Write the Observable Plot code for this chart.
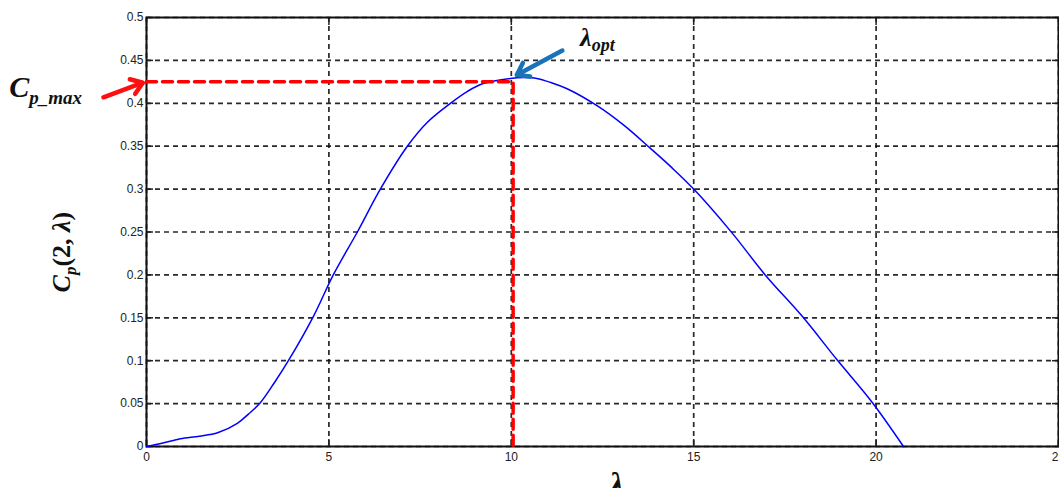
<!DOCTYPE html>
<html><head><meta charset="utf-8">
<script src="https://cdn.jsdelivr.net/npm/d3@7"></script>
<script src="https://cdn.jsdelivr.net/npm/@observablehq/plot@0.6"></script>
<style>body{margin:0;background:#fff;overflow:hidden}</style>
</head><body><div id="chart"></div>
<script>
// Power coefficient curve Cp(2, λ)
const lambda = [0, 0.45, 0.93, 1.45, 1.95, 2.49, 2.8, 3.12, 3.5, 3.89, 4.58, 5.12, 5.78, 6.41, 7.15, 7.7, 8.33, 8.8, 9.23, 9.97, 10.35, 10.7, 11.1, 11.53, 12.36, 13.1, 13.8, 14.4, 15.0, 16.05, 16.96, 17.97, 18.93, 19.9, 20.75];
const cp     = [0, 0.004, 0.009, 0.012, 0.016, 0.027, 0.038, 0.051, 0.074, 0.100, 0.152, 0.200, 0.250, 0.300, 0.350, 0.378, 0.400, 0.414, 0.423, 0.429, 0.430, 0.429, 0.424, 0.417, 0.397, 0.374, 0.348, 0.325, 0.300, 0.249, 0.200, 0.152, 0.101, 0.051, 0];
const xTicks = [0, 5, 10, 15, 20, 25];
const yTicks = [0, 0.05, 0.1, 0.15, 0.2, 0.25, 0.3, 0.35, 0.4, 0.45, 0.5];
const lambdaOpt = 10.05;
const cpMax = 0.425;
const redArrow = [{x1: -1.18, y1: 0.407, x2: -0.1, y2: 0.424}];
const blueArrow = [{x1: 11.4, y1: 0.4615, x2: 10.15, y2: 0.433}];

const curve = lambda.map((l, i) => ({l, c: cp[i]}));
const guide = [{l: 0, c: cpMax}, {l: lambdaOpt, c: cpMax}, {l: lambdaOpt, c: 0}];
const fmt = d => String(+d.toFixed(2));

const plot = Plot.plot({
  width: 1059, height: 488,
  marginLeft: 146, marginRight: 1, marginTop: 17, marginBottom: 42,
  x: {domain: [0, 25]},
  y: {domain: [0, 0.5]},
  style: {fontFamily: "'Liberation Sans', Arial, sans-serif", fontSize: "12px", color: "#222", background: "#fff", overflow: "visible"},
  marks: [
    Plot.ruleX(xTicks, {stroke: "#111", strokeDasharray: "5,4", strokeWidth: 1.7, strokeOpacity: 0.9}),
    Plot.ruleY(yTicks, {stroke: "#111", strokeDasharray: "5,4", strokeWidth: 1.7, strokeOpacity: 0.9}),
    Plot.axisX(xTicks, {tickSize: 0, tickPadding: 6, tickFormat: fmt, label: null}),
    Plot.axisY(yTicks, {tickSize: 0, tickPadding: 3, tickFormat: fmt, label: null}),
    Plot.axisX(xTicks, {tickSize: -7, tickFormat: () => "", label: null, strokeWidth: 1.5}),
    Plot.axisX(xTicks, {anchor: "top", tickSize: -7, tickFormat: () => "", label: null, strokeWidth: 1.5}),
    Plot.axisY(yTicks, {tickSize: -7, tickFormat: () => "", label: null, strokeWidth: 1.5}),
    Plot.axisY(yTicks, {anchor: "right", tickSize: -7, tickFormat: () => "", label: null, strokeWidth: 1.5}),
    Plot.frame({stroke: "#111", strokeWidth: 2}),
    Plot.line(curve, {x: "l", y: "c", stroke: "#0000ff", strokeWidth: 1.5, curve: "catmull-rom"}),
    Plot.line(guide, {x: "l", y: "c", stroke: "#ff0000", strokeWidth: 3.5, strokeDasharray: "10,6"}),
    Plot.arrow(redArrow, {x1: "x1", y1: "y1", x2: "x2", y2: "y2", stroke: "#ff1010", strokeWidth: 4.5, headLength: 4.5, headAngle: 70}),
    Plot.arrow(blueArrow, {x1: "x1", y1: "y1", x2: "x2", y2: "y2", stroke: "#1a72b8", strokeWidth: 4.5, headLength: 4.5, headAngle: 70})
  ]
});
document.getElementById("chart").appendChild(plot);

const X = plot.scale("x"), Y = plot.scale("y");
const svg = d3.select(plot);
const serif = "'Liberation Serif', 'DejaVu Serif', serif";

// Cp_max label
const t1 = svg.append("text").attr("text-anchor", "start").attr("x", X.apply(-3.75)).attr("y", Y.apply(0.407))
  .attr("font-family", serif).attr("font-weight", "bold").attr("font-style", "italic").attr("fill", "#111");
t1.append("tspan").attr("font-size", 30).text("C");
t1.append("tspan").attr("font-size", 19).attr("dy", 7).text("p_max");

// λ_opt label
const t2 = svg.append("text").attr("text-anchor", "start").attr("x", X.apply(11.9)).attr("y", Y.apply(0.466))
  .attr("font-family", serif).attr("font-weight", "bold").attr("font-style", "italic").attr("fill", "#111");
t2.append("tspan").attr("font-size", 26).text("λ");
t2.append("tspan").attr("font-size", 18).attr("dy", 5).text("opt");

// x axis title
svg.append("text").attr("text-anchor", "middle").attr("x", X.apply(12.9)).attr("y", 496)
  .attr("font-family", serif).attr("font-weight", "bold").attr("font-style", "italic").attr("font-size", 34).attr("fill", "#111").text("λ");

// y axis title
const t3 = svg.append("text").attr("transform", `translate(70,${Y.apply(0.226)}) rotate(-90)`).attr("text-anchor", "middle")
  .attr("font-family", serif).attr("font-weight", "bold").attr("font-size", 26).attr("fill", "#111");
t3.append("tspan").attr("font-style", "italic").text("C");
t3.append("tspan").attr("font-size", 17).attr("font-style", "italic").attr("dy", 6).text("p");
t3.append("tspan").attr("dy", -6).text("(2, ");
t3.append("tspan").attr("font-style", "italic").text("λ");
t3.append("tspan").text(")");
</script>
</body></html>
